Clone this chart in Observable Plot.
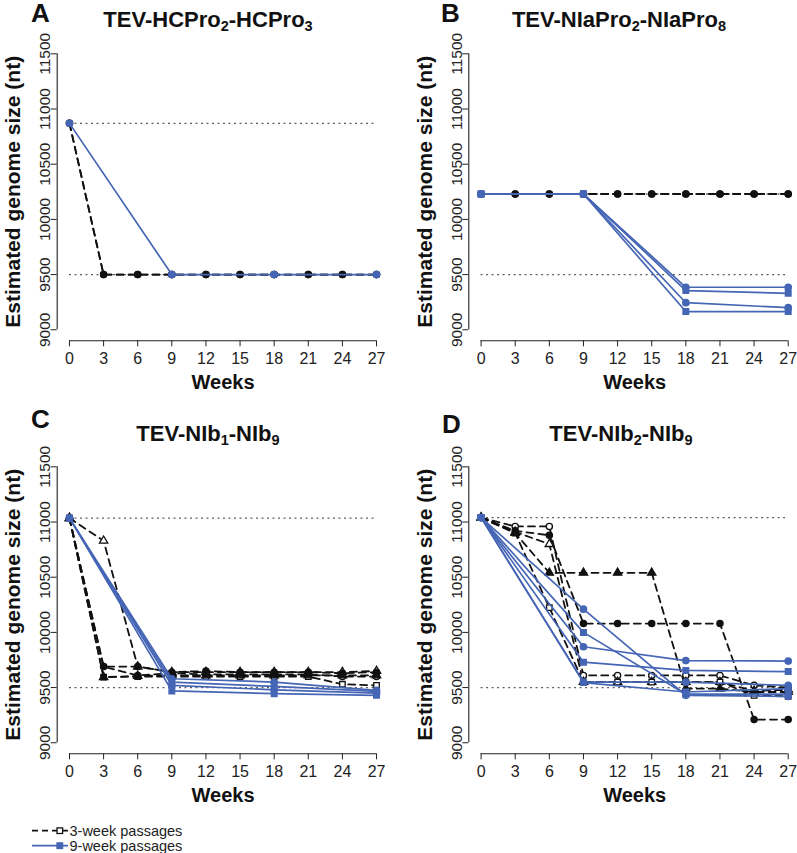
<!DOCTYPE html>
<html>
<head>
<meta charset="utf-8">
<script src="https://cdn.jsdelivr.net/npm/d3@7"></script>
<script src="https://cdn.jsdelivr.net/npm/@observablehq/plot@0.6"></script>
<style>
html, body { margin: 0; padding: 0; background: #fff; overflow: hidden; }
#fig { position: relative; width: 797px; height: 853px; overflow: hidden; font-family: "Liberation Sans", Arial, Helvetica, sans-serif; color: #111; }
.panel { position: absolute; width: 400px; height: 400px; }
.panel svg { overflow: visible; max-width: none; }
.title { position: absolute; font-weight: bold; font-size: 22px; line-height: 22px; white-space: nowrap; transform: translateX(-50%); }
.title sub { font-size: 0.66em; line-height: 0; vertical-align: -0.28em; }
.letter { position: absolute; font-weight: bold; font-size: 26px; line-height: 19px; }
#legend { position: absolute; left: 0; top: 815px; }
</style>
</head>
<body>
<div id="fig"></div>
<script>
// ---------- data ----------
const xTicks = [0, 3, 6, 9, 12, 15, 18, 21, 24, 27];
const yTicks = [9000, 9500, 10000, 10500, 11000, 11500];
const weeks3 = [0, 3, 6, 9, 12, 15, 18, 21, 24, 27];   // 3-week passages
const weeks9 = [0, 9, 18, 27];                          // 9-week passages

// Panel A: TEV-HCPro2-HCPro3
const refA = [10870, 9500];
const threeA = [
  [10870, 9500, 9500, 9500, 9500, 9500, 9500, 9500, 9500, 9500],
  [10870, 9500, 9500, 9500, 9500, 9500, 9500, 9500, 9500, 9500]
];
const nineA = [
  [10870, 9500, 9500, 9500]
];

// Panel B: TEV-NIaPro2-NIaPro8
const refB = [10230, 9500];
const threeB = [
  [10230, 10230, 10230, 10230, 10230, 10230, 10230, 10230, 10230, 10230],
  [10230, 10230, 10230, 10230, 10230, 10230, 10230, 10230, 10230, 10230]
];
const nineB = [
  [10230, 10230, 9385, 9385],
  [10230, 10230, 9355, 9330],
  [10230, 10230, 9245, 9200],
  [10230, 10230, 9165, 9165]
];

// Panel C: TEV-NIb1-NIb9
const refC = [11035, 9500];
const threeC = [
  [11035, 9690, 9610, 9630, 9620, 9620, 9620, 9620, 9600, 9600],
  [11035, 9690, 9690, 9640, 9650, 9640, 9640, 9640, 9630, 9640],
  [11035, 9595, 9605, 9610, 9610, 9610, 9610, 9610, 9610, 9610],
  [11035, 10830, 9690, 9640, 9640, 9640, 9640, 9640, 9640, 9650],
  [11035, 9595, 9600, 9600, 9600, 9600, 9600, 9600, 9530, 9520]
];
const nineC = [
  [11035, 9580, 9550, 9475],
  [11035, 9550, 9510, 9465],
  [11035, 9520, 9480, 9450],
  [11035, 9470, 9445, 9430]
];

// Panel D: TEV-NIb2-NIb9
const refD = [11040, 9500];
const threeD = [
  [11040, 10960, 10960, 9610, 9610, 9610, 9610, 9610, 9520, 9500],
  [11040, 10920, 10880, 10080, 10080, 10080, 10080, 10080, 9210, 9210],
  [11040, 10900, 10540, 10540, 10540, 10540, 9490, 9490, 9460, 9460],
  [11040, 10910, 10800, 9550, 9550, 9550, 9550, 9550, 9470, 9480],
  [11040, 10900, 10225, 9550, 9550, 9550, 9550, 9550, 9430, 9420]
];
const nineD = [
  [11040, 10210, 9430, 9420],
  [11040, 10000, 9440, 9440],
  [11040, 9870, 9745, 9740],
  [11040, 9730, 9655, 9645],
  [11040, 9550, 9550, 9520],
  [11040, 9545, 9460, 9490]
];

const sym3 = ["circle", "circle", "triangle", "triangle", "square"];
const open3 = [true, false, false, true, true];
const sym9 = ["circle", "square", "circle", "square", "circle", "square"];

const BLUE = "#4565b5";
const BLACK = "#111";
const FONT = "'Liberation Sans', Arial, Helvetica, sans-serif";

// ---------- drawing ----------
function makePanel({ref, three, nine, mL, mR}) {
  const xPad = (xTicks[xTicks.length - 1] - xTicks[0]) * 0.04;
  const yPad = (yTicks[yTicks.length - 1] - yTicks[0]) * 0.04;
  const xDom = [xTicks[0] - xPad, xTicks[xTicks.length - 1] + xPad];
  const yDom = [yTicks[0] - yPad, yTicks[yTicks.length - 1] + yPad];
  const rows3 = three.flatMap((vals, k) => vals.map((v, i) => ({id: k, week: weeks3[i], size: v})));
  const rows9 = nine.flatMap((vals, k) => vals.map((v, i) => ({id: k, week: weeks9[i], size: v})));
  // draw hollow markers first so filled ones sit on top where lineages overlap
  const order3 = three.map((_, k) => k).sort((a, b) => (open3[b % open3.length] - open3[a % open3.length]) || a - b);
  const marks = [
    Plot.ruleY(ref, {x1: xTicks[0], x2: xTicks[xTicks.length - 1], stroke: "#5e5e5e", strokeDasharray: "2,3.5", strokeWidth: 1.4}),
    Plot.line(rows3, {x: "week", y: "size", z: "id", stroke: BLACK, strokeWidth: 1.8, strokeDasharray: "7,5"}),
    ...order3.map(k => Plot.dot(rows3.filter(d => d.id === k), {
      x: "week", y: "size", symbol: sym3[k % sym3.length], r: 3.1,
      fill: open3[k % open3.length] ? "white" : BLACK, stroke: BLACK, strokeWidth: 1.3
    })),
    Plot.line(rows9, {x: "week", y: "size", z: "id", stroke: BLUE, strokeWidth: 1.7}),
    ...nine.map((_, k) => Plot.dot(rows9.filter(d => d.id === k), {
      x: "week", y: "size", symbol: sym9[k % sym9.length], r: 3.1, fill: BLUE, stroke: BLUE
    })),
    Plot.ruleX([xDom[0]], {y1: yTicks[0], y2: yTicks[yTicks.length - 1], stroke: "#222", strokeWidth: 1.1}),
    Plot.ruleY([yDom[0]], {x1: xTicks[0], x2: xTicks[xTicks.length - 1], stroke: "#222", strokeWidth: 1.1}),
    Plot.axisX({ticks: xTicks, tickSize: 6, tickPadding: 6, fontSize: 16, label: null, tickFormat: d => String(d)}),
    Plot.axisY({ticks: yTicks, tickSize: 6, tickPadding: 1, tickRotate: -90, fontSize: 15.5, label: null, tickFormat: d => String(d)}),
    Plot.text(["Weeks"], {text: d => d, frameAnchor: "bottom", lineAnchor: "middle", textAnchor: "middle", dy: 42, fontWeight: "bold", fontSize: 20, fill: BLACK}),
    Plot.text(["Estimated genome size (nt)"], {text: d => d, frameAnchor: "left", textAnchor: "middle", lineAnchor: "middle", dx: -44, rotate: -90, fontWeight: "bold", fontSize: 21, fill: BLACK})
  ];
  return Plot.plot({
    width: 400, height: 400,
    marginLeft: mL, marginRight: mR, marginTop: 42.3, marginBottom: 59.7,
    x: {domain: xDom}, y: {domain: yDom},
    style: {fontFamily: FONT, overflow: "visible", background: "transparent", color: "#222"},
    marks
  });
}

const fig = document.getElementById("fig");
const panels = [
  {left: 0, top: 0, ref: refA, three: threeA, nine: nineA, mL: 56.7, mR: 11.7,
   letter: "A", lx: 31, lb: 22, title: "TEV-HCPro<sub>2</sub>-HCPro<sub>3</sub>", tx: 208, tb: 28},
  {left: 400, top: 0, ref: refB, three: threeB, nine: nineB, mL: 68.3, mR: 0,
   letter: "B", lx: 441, lb: 22, title: "TEV-NIaPro<sub>2</sub>-NIaPro<sub>8</sub>", tx: 619, tb: 28},
  {left: 0, top: 413.4, ref: refC, three: threeC, nine: nineC, mL: 56.7, mR: 11.7,
   letter: "C", lx: 31, lb: 428, title: "TEV-NIb<sub>1</sub>-NIb<sub>9</sub>", tx: 208, tb: 441.5},
  {left: 400, top: 413.4, ref: refD, three: threeD, nine: nineD, mL: 68.3, mR: 0,
   letter: "D", lx: 442, lb: 433, title: "TEV-NIb<sub>2</sub>-NIb<sub>9</sub>", tx: 621, tb: 441.5}
];

for (const p of panels) {
  const div = document.createElement("div");
  div.className = "panel";
  div.style.left = p.left + "px";
  div.style.top = p.top + "px";
  div.appendChild(makePanel(p));
  fig.appendChild(div);

  const t = document.createElement("div");
  t.className = "title";
  t.innerHTML = p.title;
  t.style.left = p.tx + "px";
  t.style.top = (p.tb - 18.6) + "px";
  fig.appendChild(t);

  const l = document.createElement("div");
  l.className = "letter";
  l.textContent = p.letter;
  l.style.left = p.lx + "px";
  l.style.top = (p.lb - 18.5) + "px";
  fig.appendChild(l);
}

// legend
const legendItems = [
  {label: "3-week passages", color: BLACK, dash: "6,4", fill: "white"},
  {label: "9-week passages", color: BLUE, dash: null, fill: BLUE}
];
const lg = d3.select(fig).append("svg").attr("id", "legend").attr("width", 220).attr("height", 38);
legendItems.forEach((it, i) => {
  const y = 15.7 + i * 15;
  const g = lg.append("g");
  g.append("line").attr("x1", 32).attr("x2", 68).attr("y1", y).attr("y2", y)
    .attr("stroke", it.color).attr("stroke-width", 1.8).attr("stroke-dasharray", it.dash);
  g.append("rect").attr("x", 57).attr("y", y - 2.8).attr("width", 5.6).attr("height", 5.6)
    .attr("fill", it.fill).attr("stroke", it.color).attr("stroke-width", 1.3);
  g.append("text").attr("x", 69.5).attr("y", y + 5).attr("font-size", 14.5)
    .attr("font-family", FONT).attr("fill", "#222").text(it.label);
});
</script>
</body>
</html>
